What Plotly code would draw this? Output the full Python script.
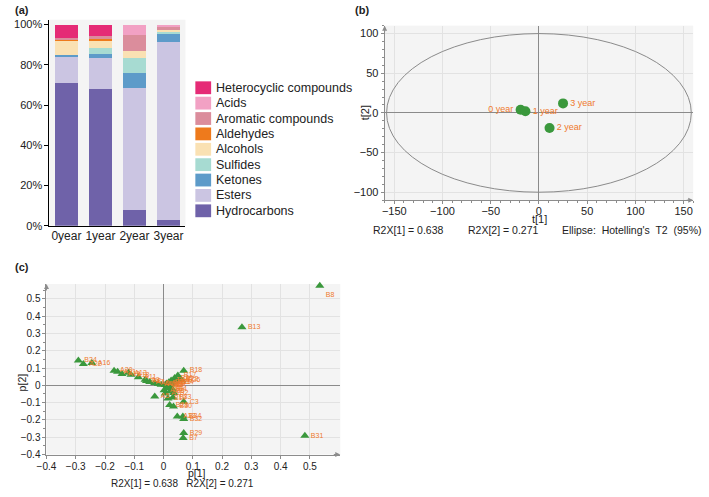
import plotly.graph_objects as go

W, H = 709, 497
FONT = "Liberation Sans, Arial, sans-serif"

# ---------------- data: panel (a) ----------------
years = ["0year", "1year", "2year", "3year"]
compound_classes = ["Hydrocarbons", "Esters", "Ketones", "Sulfides", "Alcohols",
                    "Aldehydes", "Aromatic compounds", "Acids", "Heterocyclic compounds"]
hydrocarbons = [70.9, 67.8, 7.8, 3.1]
esters = [13.5, 15.8, 60.8, 88.3]
ketones = [0.5, 1.6, 7.4, 4.1]
sulfides = [0.0, 3.1, 7.4, 1.4]
alcohols = [7.0, 3.9, 3.4, 0.4]
aldehydes = [1.0, 0.6, 0.0, 0.0]
aromatic = [0.5, 1.5, 7.8, 1.5]
acids = [0.0, 0.0, 5.4, 1.2]
heterocyclic = [6.6, 5.7, 0.0, 0.0]
class_values = [hydrocarbons, esters, ketones, sulfides, alcohols,
                aldehydes, aromatic, acids, heterocyclic]
class_colors = ["#6f62a9", "#cbc5e2", "#5d9bc9", "#a7dbd2", "#fae1b3",
                "#ee7a1c", "#db8d9c", "#f2a1c4", "#e52b76"]
pct_ticks = [0, 20, 40, 60, 80, 100]

# ---------------- data: panel (b) scores ----------------
score_labels = ["0 year", "1 year", "2 year", "3 year"]
t1 = [-19, -14, 11, 25]
t2 = [4, 2, -19, 12]
ellipse_a = 158
ellipse_b = 100

# ---------------- data: panel (c) loadings ----------------
load_labels = ["B24", "A22", "A16", "A20", "A21", "A19", "A13", "A18", "A11", "A9",
               "A8", "A7", "A6", "A4", "A3", "B18", "B17", "B20", "B26", "B15",
               "B22", "B12", "B10", "C1", "B5", "B9", "B11", "B14", "B3", "B4",
               "C2", "A2", "A1", "B6", "B2", "A5", "B19", "B33", "C3", "B28",
               "B30", "A23", "B34", "B32", "B29", "B7", "B8", "B13", "B31"]
p1 = [-0.291, -0.274, -0.245, -0.169, -0.157, -0.142, -0.120, -0.111, -0.086, -0.063,
      -0.058, -0.047, -0.030, -0.018, -0.008, 0.069, 0.049, 0.038, 0.063, 0.026,
      0.056, 0.018, 0.010, 0.005, 0.015, 0.025, 0.032, 0.040, 0.020, 0.030,
      0.012, 0.002, 0.006, 0.022, 0.035, -0.030, 0.015, 0.032, 0.069, 0.021,
      0.034, 0.047, 0.066, 0.069, 0.069, 0.067, 0.534, 0.268, 0.483]
p2 = [0.144, 0.123, 0.129, 0.085, 0.078, 0.066, 0.072, 0.061, 0.047, 0.032,
      0.025, 0.019, 0.013, 0.008, 0.004, 0.085, 0.057, 0.042, 0.028, 0.028,
      0.035, 0.018, 0.010, 0.002, 0.000, 0.008, 0.015, 0.020, -0.010, -0.020,
      -0.015, -0.028, -0.047, -0.035, -0.045, -0.065, -0.076, -0.070, -0.095, -0.114,
      -0.123, -0.180, -0.180, -0.194, -0.275, -0.304, 0.575, 0.336, -0.292]
p1_ticks = [-0.4, -0.3, -0.2, -0.1, 0, 0.1, 0.2, 0.3, 0.4, 0.5]
p2_ticks = [-0.4, -0.3, -0.2, -0.1, 0, 0.1, 0.2, 0.3, 0.4, 0.5]

GREEN = "#3a983c"
ORANGE = "#ef7a2c"


def px_x(v):
    return v / W


def px_y(v):
    return 1 - v / H


fig = go.Figure()

# ---- (a) stacked bars ----
for name, vals, col in zip(compound_classes, class_values, class_colors):
    fig.add_trace(go.Bar(x=years, y=vals, name=name, marker=dict(color=col, line=dict(width=0)),
                         xaxis="x", yaxis="y", showlegend=False))

# ---- (b) scores ----
fig.add_trace(go.Scatter(
    x=t1, y=t2, mode="markers+text", text=score_labels,
    textposition=["middle left", "middle right", "middle right", "middle right"],
    textfont=dict(color=ORANGE, size=9, family=FONT),
    marker=dict(color=GREEN, size=10, line=dict(width=0)),
    xaxis="x2", yaxis="y2", showlegend=False, cliponaxis=False))

# ---- (c) loadings ----
fig.add_trace(go.Scatter(
    x=p1, y=p2, mode="markers+text", text=load_labels,
    textposition=["bottom right" if l == "B8" else "middle right" for l in load_labels],
    textfont=dict(color=ORANGE, size=7, family=FONT),
    marker=dict(color=GREEN, size=8, symbol="triangle-up", line=dict(width=0)),
    xaxis="x3", yaxis="y3", showlegend=False, cliponaxis=False))

AX_GRAY = "#8c8c8c"
GRID = "#e2e2e2"

fig.update_layout(
    width=W, height=H, margin=dict(l=0, r=0, t=0, b=0),
    paper_bgcolor="white", plot_bgcolor="#f4f4f4",
    barmode="stack", bargap=0.33,
    font=dict(family=FONT, color="#222"),
    xaxis=dict(domain=[px_x(40), px_x(178)], showline=True, linecolor="black", linewidth=1,
               ticks="", showgrid=False, tickfont=dict(size=12, color="#222"),
               ticklabelstandoff=-1,
               range=[-0.5, 3.5], anchor="y", fixedrange=True),
    yaxis=dict(domain=[px_y(228), px_y(19)], range=[0, 102.4], showline=True, linecolor="black",
               linewidth=1, ticks="outside", ticklen=4, tickcolor="black",
               tickvals=pct_ticks, ticktext=[f"{v}%" for v in pct_ticks],
               showgrid=False, zeroline=False, tickfont=dict(size=11, color="#222"),
               anchor="x"),
    xaxis2=dict(domain=[px_x(380), px_x(693)], range=[-160, 160], dtick=50, tick0=0,
                showline=True, linecolor=AX_GRAY, ticks="outside", ticklen=3, tickcolor=AX_GRAY,
                ticklabelstandoff=-2,
                minor=dict(dtick=10, ticks="outside", ticklen=2, tickcolor=AX_GRAY, showgrid=False),
                showgrid=True, gridcolor=GRID, zeroline=True, zerolinecolor="#8a8a8a",
                zerolinewidth=1, tickfont=dict(size=11, color="#222"), anchor="y2"),
    yaxis2=dict(domain=[px_y(202), px_y(25)], range=[-110, 110], dtick=50, tick0=0,
                showline=True, linecolor=AX_GRAY, ticks="outside", ticklen=3, tickcolor=AX_GRAY,
                minor=dict(dtick=10, ticks="outside", ticklen=2, tickcolor=AX_GRAY, showgrid=False),
                showgrid=True, gridcolor=GRID, zeroline=True, zerolinecolor="#8a8a8a",
                zerolinewidth=1, tickfont=dict(size=11, color="#222"), anchor="x2"),
    xaxis3=dict(domain=[px_x(37), px_x(335)], range=[-0.4, 0.604], tickvals=p1_ticks,
                showline=True, linecolor=AX_GRAY, ticks="outside", ticklen=3, tickcolor=AX_GRAY,
                ticklabelstandoff=-1,
                showgrid=True, gridcolor=GRID, zeroline=True, zerolinecolor="#8a8a8a",
                zerolinewidth=1, tickfont=dict(size=10, color="#222"), anchor="y3"),
    yaxis3=dict(domain=[px_y(460), px_y(287)], range=[-0.4, 0.586], tickvals=p2_ticks,
                showline=True, linecolor=AX_GRAY, ticks="outside", ticklen=3, tickcolor=AX_GRAY,
                minor=dict(dtick=0.05, ticks="outside", ticklen=2, tickcolor=AX_GRAY, showgrid=False),
                showgrid=True, gridcolor=GRID, zeroline=True, zerolinecolor="#8a8a8a",
                zerolinewidth=1, tickfont=dict(size=10, color="#222"), anchor="x3"),
)

# Hotelling's T2 ellipse
fig.add_shape(type="circle", xref="x2", yref="y2", x0=-ellipse_a, x1=ellipse_a,
              y0=-ellipse_b, y1=ellipse_b, line=dict(color="#8a8a8a", width=1), layer="above")

# Manual legend for (a), top entry = last class
for i, (name, col) in enumerate(zip(compound_classes[::-1], class_colors[::-1])):
    yc = 88 + i * 15.6
    fig.add_shape(type="rect", xref="paper", yref="paper",
                  x0=px_x(188), x1=px_x(204), y0=px_y(yc + 6.5), y1=px_y(yc - 6.5),
                  fillcolor=col, line=dict(width=0))
    fig.add_annotation(x=px_x(207), y=px_y(yc), xref="paper", yref="paper", text=name,
                       showarrow=False, xanchor="left", yanchor="middle",
                       font=dict(size=12.5, color="#222", family=FONT))

# axis arrows (b) and (c)
for xr, yr in [("x2", "y2"), ("x3", "y3")]:
    fig.add_annotation(x=0, y=1, xref=f"{xr} domain", yref=f"{yr} domain", ax=0, ay=8, text="",
                       showarrow=True, arrowhead=2, arrowsize=1, arrowwidth=1, arrowcolor=AX_GRAY)
    fig.add_annotation(x=1, y=0, xref=f"{xr} domain", yref=f"{yr} domain", ax=-8, ay=0, text="",
                       showarrow=True, arrowhead=2, arrowsize=1, arrowwidth=1, arrowcolor=AX_GRAY)


def txt(x, y, s, size=11, anchor="left", bold=False, angle=0):
    fig.add_annotation(x=px_x(x), y=px_y(y), xref="paper", yref="paper",
                       text=f"<b>{s}</b>" if bold else s, showarrow=False,
                       xanchor=anchor, yanchor="middle", textangle=angle,
                       font=dict(size=size, color="#222", family=FONT))


txt(3, 9, "(a)", 11, bold=True)
txt(348, 9, "(b)", 11, bold=True)
txt(3, 270, "(c)", 11, bold=True)

txt(537, 221, "t[1]", 11, anchor="center")
txt(361, 113, "t[2]", 11, anchor="center", angle=-90)
txt(366, 232, "R2X[1] = 0.638", 10.5)
txt(463, 232, "R2X[2] = 0.271", 10.5)
txt(558, 232, "Ellipse:  Hotelling's  T2  (95%)", 10.5)

txt(190, 479, "p[1]", 10.5, anchor="center")
txt(12, 387, "p[2]", 10.5, anchor="center", angle=-90)
txt(175, 489, "R2X[1] = 0.638   R2X[2] = 0.271", 10, anchor="center")

fig.write_html("out.html", config={"displayModeBar": False},
               post_script="document.body.style.margin='0';document.body.style.overflow='hidden';")
